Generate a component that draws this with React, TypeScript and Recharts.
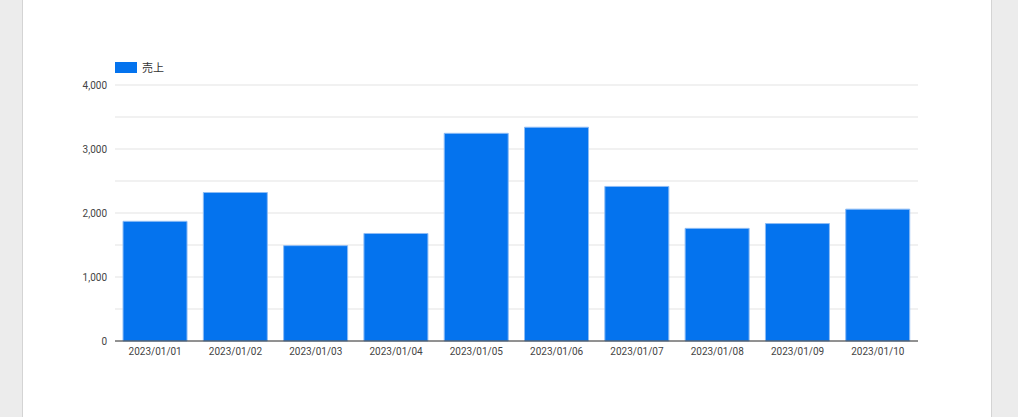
import { BarChart, Bar, XAxis, YAxis, CartesianGrid } from "recharts";

const dates = [
    "2023/01/01",
    "2023/01/02",
    "2023/01/03",
    "2023/01/04",
    "2023/01/05",
    "2023/01/06",
    "2023/01/07",
    "2023/01/08",
    "2023/01/09",
    "2023/01/10",
];
const sales = [1870, 2320, 1490, 1680, 3245, 3340, 2415, 1760, 1835, 2060];
const yTicks = [0, 500, 1000, 1500, 2000, 2500, 3000, 3500, 4000];
const seriesName = "売上";

const data = dates.map((d, i) => ({ date: d, sales: sales[i] }));

const BLUE = "#0473ee";

export default function App() {
    return (
        <div style={{ position: "fixed", left: 0, top: 0, width: 1018, height: 417, background: "#ececec", overflow: "hidden" }}>
            <div
                style={{
                    position: "absolute",
                    left: 22,
                    top: 0,
                    width: 968,
                    height: 417,
                    background: "#fff",
                    borderLeft: "1px solid #d4d4d4",
                    borderRight: "1px solid #d4d4d4",
                }}
            />
            {/* legend */}
            <div
                style={{
                    position: "absolute",
                    left: 115,
                    top: 58,
                    height: 18,
                    display: "flex",
                    alignItems: "center",
                    fontFamily: "Roboto, 'Noto Sans CJK JP', sans-serif",
                    fontSize: 11,
                    color: "#333",
                }}
            >
                <span style={{ display: "inline-block", width: 22, height: 11, background: BLUE, marginRight: 5 }} />
                <span>{seriesName}</span>
            </div>
            <div style={{ position: "absolute", left: 0, top: 0 }}>
                <BarChart
                    width={1018}
                    height={417}
                    data={data}
                    margin={{ top: 85, right: 100, bottom: 46, left: 0 }}
                    barCategoryGap="10%"
                    style={{ fontFamily: "Roboto, sans-serif" }}
                >
                    <CartesianGrid vertical={false} stroke="#e3e3e3" />
                    <XAxis
                        dataKey="date"
                        axisLine={{ stroke: "#333" }}
                        tickLine={false}
                        tickSize={0}
                        tickMargin={7}
                        interval={0}
                        tick={{ fill: "#444", fontSize: 10 }}
                    />
                    <YAxis
                        width={115}
                        domain={[0, 4000]}
                        ticks={yTicks}
                        interval={0}
                        axisLine={false}
                        tickLine={false}
                        tickSize={6}
                        tickMargin={2}
                        tick={{ fill: "#444", fontSize: 10 }}
                        tickFormatter={(v: number) => (v % 1000 === 0 ? v.toLocaleString("en-US") : "")}
                    />
                    <Bar
                        dataKey="sales"
                        name={seriesName}
                        fill={BLUE}
                        stroke="#8dbcf5"
                        strokeWidth={1}
                        isAnimationActive={false}
                    />
                </BarChart>
            </div>
        </div>
    );
}
